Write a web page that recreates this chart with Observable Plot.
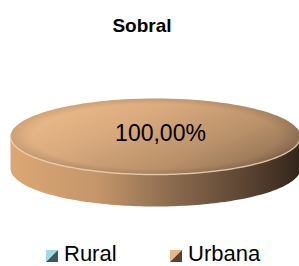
<!DOCTYPE html>
<html><head><meta charset="utf-8">
<script src="https://cdn.jsdelivr.net/npm/d3@7"></script>
<script src="https://cdn.jsdelivr.net/npm/@observablehq/plot@0.6"></script>
<style>
body{margin:0;background:#fff;font-family:"Liberation Sans",Arial,sans-serif;}
#wrap{position:relative;width:299px;height:266px;overflow:hidden;background:#fff;}
#title{position:absolute;left:0;width:284px;top:16px;text-align:center;font-weight:bold;font-size:19px;line-height:19px;color:#000;}
#chart{position:absolute;left:0;top:50px;}
.leg{position:absolute;top:243px;font-size:22px;line-height:22px;color:#000;white-space:nowrap;}
.leg svg{position:absolute;left:0;top:7px;}
.leg span{position:absolute;left:18px;top:0;}
</style></head><body><div id="wrap"><div id="title"></div><div id="chart"></div></div>
<script>
const chartTitle = "Sobral";
const categories = ["Rural", "Urbana"];
const values = [0, 100];
const labels = ["0,00%", "100,00%"];
const lightColors = ["#a3dadf", "#e8b888"];
const darkColors = ["#3c5a5d", "#5a4130"];

document.getElementById("title").textContent = chartTitle;

const depth = 0.842; // side thickness in radius units
const pie = d3.pie().sort(null).value(d => d.value)(categories.map((c, i) => ({cat: c, value: values[i], label: labels[i], i})));

const topPts = [];
const sidePts = [];
const rimPts = [];
const labelPts = [];
pie.forEach(s => {
  if (s.value <= 0) return;
  const full = s.endAngle - s.startAngle >= 2 * Math.PI - 1e-9;
  const n = 120;
  if (!full) topPts.push({slice: s.data.cat, x: 0, y: 0});
  for (let k = 0; k <= n; k++) {
    const a = s.startAngle + (s.endAngle - s.startAngle) * k / n;
    topPts.push({slice: s.data.cat, x: Math.sin(a), y: -Math.cos(a)});
  }
  const a0 = Math.max(s.startAngle, Math.PI / 2), a1 = Math.min(s.endAngle, 3 * Math.PI / 2);
  if (a1 > a0) {
    const up = [], dn = [];
    for (let k = 0; k <= n; k++) {
      const a = a0 + (a1 - a0) * k / n;
      up.push({slice: s.data.cat, x: Math.sin(a), y: -Math.cos(a)});
      dn.push({slice: s.data.cat, x: Math.sin(a), y: -Math.cos(a) + depth});
      rimPts.push({slice: s.data.cat, x: Math.sin(a), y: -Math.cos(a)});
    }
    sidePts.push(...up, ...dn.reverse());
  }
  const mid = (s.startAngle + s.endAngle) / 2;
  const r = full ? 0 : 0.6;
  labelPts.push({x: r * Math.sin(mid), y: -r * Math.cos(mid), text: s.data.label});
});

const svg = Plot.plot({
  width: 299,
  height: 180,
  margin: 0,
  x: {domain: [-1, 1], range: [10, 300], axis: null},
  y: {domain: [-1, 1 + depth], range: [48, 156], axis: null},
  marks: [
    Plot.line(sidePts, {x: "x", y: "y", z: "slice", curve: "linear-closed", fill: "url(#gSide)", stroke: "none"}),
    Plot.line(topPts, {x: "x", y: "y", z: "slice", curve: "linear-closed", fill: "url(#gTop)", stroke: "none"}),
    Plot.line(topPts, {x: "x", y: "y", z: "slice", curve: "linear-closed", fill: "url(#gShade)", stroke: "none"}),
    Plot.line(rimPts, {x: "x", y: "y", z: "slice", stroke: "#efd2b2", strokeWidth: 1.5, strokeOpacity: 0.8}),
    Plot.text(labelPts, {x: "x", y: "y", text: "text", fontSize: 23, fill: "#000", dx: 5, dy: -3, fontFamily: "Liberation Sans, Arial, sans-serif"})
  ]
});

d3.select(svg).insert("defs", ":first-child").html(`
  <linearGradient id="gSide" x1="0" y1="0" x2="1" y2="0">
    <stop offset="0" stop-color="#dca774"/>
    <stop offset="0.3" stop-color="#c4966a"/>
    <stop offset="0.55" stop-color="#8c6c4f"/>
    <stop offset="0.8" stop-color="#5e4634"/>
    <stop offset="1" stop-color="#33251b"/>
  </linearGradient>
  <linearGradient id="gTop" x1="0" y1="0.2" x2="1" y2="0.8">
    <stop offset="0" stop-color="#f0be8c"/>
    <stop offset="0.35" stop-color="#d9aa7e"/>
    <stop offset="0.7" stop-color="#b89069"/>
    <stop offset="0.9" stop-color="#9a7859"/>
    <stop offset="1" stop-color="#6e543f"/>
  </linearGradient>
  <radialGradient id="gShade" cx="0.5" cy="0.5" r="0.5">
    <stop offset="0.85" stop-color="#000" stop-opacity="0"/>
    <stop offset="1" stop-color="#000" stop-opacity="0.12"/>
  </radialGradient>
`);
d3.select(svg).style("overflow", "visible");
document.getElementById("chart").appendChild(svg);

const legX = [46, 170];
const wrap = document.getElementById("wrap");
categories.forEach((c, i) => {
  const d = document.createElement("div");
  d.className = "leg";
  d.style.left = legX[i] + "px";
  d.innerHTML = `<svg width="12" height="12"><polygon points="0,0 12,0 0,12" fill="${lightColors[i]}"/><polygon points="12,0 12,12 0,12" fill="${darkColors[i]}"/></svg><span>${c}</span>`;
  wrap.appendChild(d);
});
</script>
</body></html>
